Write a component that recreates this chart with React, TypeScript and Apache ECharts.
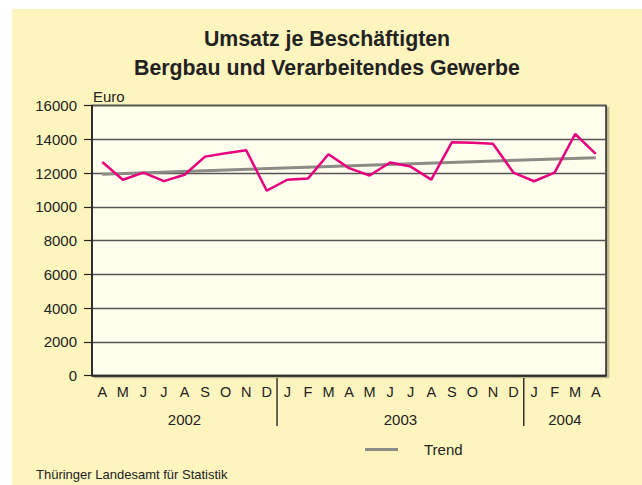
import React, { useEffect, useRef } from "react";
import * as echarts from "echarts";

const periods = [
  "Apr 2002", "Mai 2002", "Jun 2002", "Jul 2002", "Aug 2002", "Sep 2002", "Okt 2002", "Nov 2002", "Dez 2002",
  "Jan 2003", "Feb 2003", "Mär 2003", "Apr 2003", "Mai 2003", "Jun 2003", "Jul 2003", "Aug 2003", "Sep 2003", "Okt 2003", "Nov 2003", "Dez 2003",
  "Jan 2004", "Feb 2004", "Mär 2004", "Apr 2004",
];
const monthLetters = [
  "A", "M", "J", "J", "A", "S", "O", "N", "D",
  "J", "F", "M", "A", "M", "J", "J", "A", "S", "O", "N", "D",
  "J", "F", "M", "A",
];
const umsatz = [
  12650, 11600, 12020, 11520, 11900, 12970, 13170, 13350, 10950,
  11600, 11670, 13110, 12290, 11850, 12620, 12380, 11610, 13820, 13790, 13730, 12020,
  11510, 12020, 14310, 13130,
];
// trend line end points (first and last period)
const trendStart = 11930;
const trendEnd = 12910;
const yearLabels = ["2002", "2003", "2004"];
const yearFirstIndex = [0, 9, 21];
const yearLastIndex = [8, 20, 24];
const yTicks = { min: 0, max: 16000, interval: 2000 };

const FONT = "'Liberation Sans', Arial, Helvetica, sans-serif";
const INK = "#222222";
const TREND = "#8C8C86";

export default function App() {
  const ref = useRef<HTMLDivElement>(null);
  useEffect(() => {
    if (!ref.current) return;
    const chart = echarts.init(ref.current, undefined, { renderer: "svg" });
    const trendData: (number | null)[] = periods.map((_, i) =>
      i === 0 ? trendStart : i === periods.length - 1 ? trendEnd : null
    );
    chart.setOption({
      animation: false,
      backgroundColor: "transparent",
      textStyle: { fontFamily: FONT },
      title: {
        text: "Umsatz je Beschäftigten\nBergbau und Verarbeitendes Gewerbe",
        left: "center",
        top: 10,
        textStyle: { fontFamily: FONT, fontSize: 21.3, fontWeight: "bold", lineHeight: 29, color: INK },
      },
      grid: {
        left: 80,
        top: 96.5,
        width: 514,
        height: 270,
        show: true,
        backgroundColor: "#FFFDEC",
        borderColor: INK,
        borderWidth: 1.5,
        shadowColor: "rgba(0,0,0,0.25)",
        shadowOffsetX: 2.5,
        shadowOffsetY: 2,
        shadowBlur: 0,
      },
      legend: {
        data: [{ name: "Trend", icon: "rect" }],
        left: 348,
        top: 428,
        itemWidth: 33,
        itemHeight: 3,
        itemStyle: { color: TREND },
        textStyle: { fontFamily: FONT, fontSize: 15, color: INK, padding: [0, 0, 0, 21] },
      },
      xAxis: {
        type: "category",
        data: periods,
        boundaryGap: true,
        axisLine: { show: true, lineStyle: { color: INK, width: 1.5 } },
        axisTick: { show: false },
        axisLabel: {
          interval: 0,
          margin: 9,
          fontSize: 14.5,
          color: INK,
          fontFamily: FONT,
          formatter: (_v: string, i: number) => monthLetters[i],
        },
        splitLine: { show: false },
      },
      yAxis: {
        type: "value",
        min: yTicks.min,
        max: yTicks.max,
        interval: yTicks.interval,
        name: "Euro",
        nameLocation: "end",
        nameGap: 2,
        nameTextStyle: { align: "left", verticalAlign: "bottom", fontSize: 15, color: INK, fontFamily: FONT, padding: [0, 0, 0, 1] },
        axisLine: { show: true, lineStyle: { color: INK, width: 1.5 } },
        axisTick: { show: true, length: 8, lineStyle: { color: INK, width: 1.2 } },
        axisLabel: { margin: 15, fontSize: 15, color: INK, fontFamily: FONT, formatter: (v: number) => String(v) },
        splitLine: { show: true, lineStyle: { color: "#555555", width: 1.3 } },
      },
      series: [
        {
          name: "Umsatz",
          type: "line",
          data: umsatz,
          symbol: "none",
          lineStyle: { color: "#E6007E", width: 2.5 },
          itemStyle: { color: "#E6007E" },
          z: 3,
        },
        {
          name: "Trend",
          type: "line",
          data: trendData,
          connectNulls: true,
          symbol: "none",
          lineStyle: { color: TREND, width: 3 },
          itemStyle: { color: TREND },
          z: 2,
        },
      ],
    });

    const px = (i: number) => chart.convertToPixel({ xAxisIndex: 0 }, i) as number;
    const graphics: any[] = [];
    for (let k = 0; k < yearLabels.length; k++) {
      const cx = (px(yearFirstIndex[k]) + px(yearLastIndex[k])) / 2;
      graphics.push({
        type: "text",
        id: "year" + k,
        x: cx,
        y: 410,
        style: { text: yearLabels[k], fontSize: 15, fontFamily: FONT, fill: INK, align: "center", verticalAlign: "middle" },
      });
      if (k > 0) {
        const bx = (px(yearFirstIndex[k]) + px(yearLastIndex[k - 1])) / 2;
        graphics.push({
          type: "line",
          id: "sep" + k,
          shape: { x1: bx, y1: 369, x2: bx, y2: 417 },
          style: { stroke: "#333333", lineWidth: 1.5 },
        });
      }
    }
    graphics.push({
      type: "text",
      id: "source",
      x: 24,
      y: 465,
      style: { text: "Thüringer Landesamt für Statistik", fontSize: 13, fontFamily: FONT, fill: INK, align: "left", verticalAlign: "middle" },
    });
    chart.setOption({ graphic: graphics });

    return () => chart.dispose();
  }, []);
  return (
    <div
      ref={ref}
      style={{ position: "absolute", left: 12, top: 9, width: 630, height: 476, backgroundColor: "#FEF5BE" }}
    />
  );
}
